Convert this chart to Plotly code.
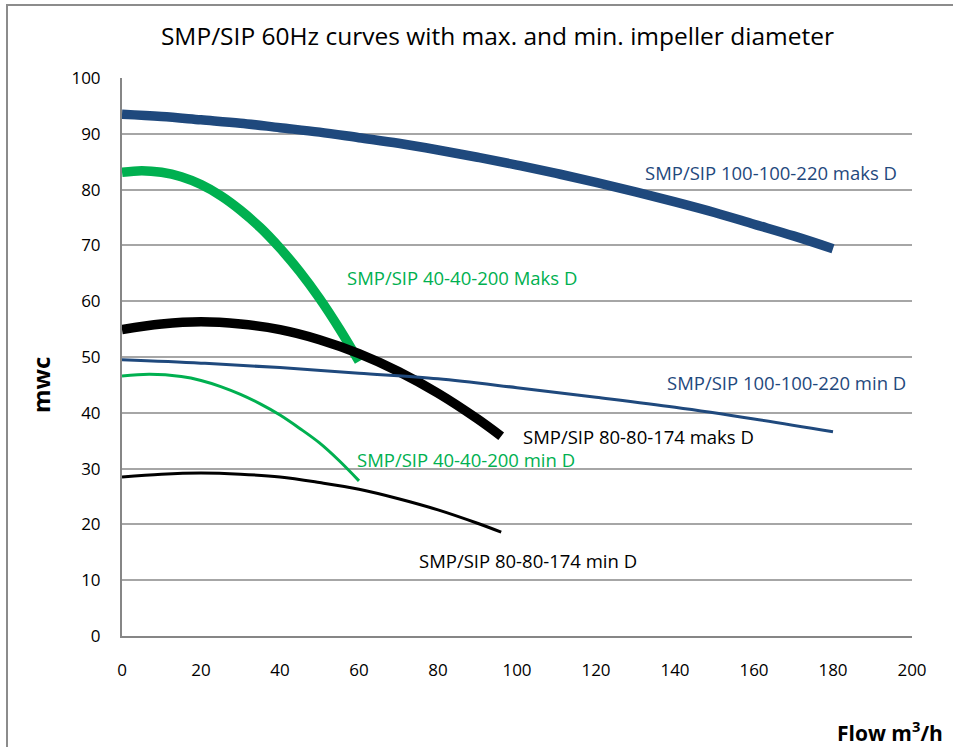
import plotly.graph_objects as go

# Flow (m3/h) and head (mwc)
q_100_max = [0, 10, 20, 30, 40, 50, 60, 70, 80, 90, 100, 110, 120, 130, 140, 150, 160, 170, 180]
h_100_max = [93.5, 93.1, 92.5, 91.9, 91.1, 90.3, 89.3, 88.3, 87.1, 85.8, 84.4, 82.9, 81.3, 79.6, 77.8, 75.9, 73.8, 71.7, 69.4]

q_40_max = [0, 5, 10, 15, 20, 25, 30, 35, 40, 45, 50, 55, 60]
h_40_max = [83.1, 83.4, 83.1, 82.3, 80.9, 78.9, 76.3, 73.2, 69.5, 65.3, 60.5, 55.1, 49.2]

q_80_max = [0, 10, 20, 30, 40, 50, 60, 70, 80, 90, 96]
h_80_max = [54.9, 55.9, 56.3, 55.9, 54.9, 53.1, 50.6, 47.4, 43.5, 38.9, 35.8]

q_100_min = [0, 20, 40, 60, 80, 100, 120, 140, 160, 180]
h_100_min = [49.5, 48.9, 48.1, 47.1, 46.1, 44.5, 42.8, 41.0, 38.9, 36.6]

q_40_min = [0, 7, 15, 20, 25, 30, 35, 40, 45, 50, 55, 60]
h_40_min = [46.6, 46.9, 46.5, 45.8, 44.7, 43.3, 41.6, 39.6, 37.2, 34.6, 31.4, 27.8]

q_80_min = [0, 10, 20, 30, 40, 50, 60, 70, 80, 90, 96]
h_80_min = [28.5, 29.0, 29.2, 29.0, 28.5, 27.5, 26.3, 24.6, 22.6, 20.2, 18.6]

series = [
    (q_100_max, h_100_max, "#1F497D", 9.5),
    (q_40_max, h_40_max, "#00B050", 9.5),
    (q_80_max, h_80_max, "#000000", 9.5),
    (q_100_min, h_100_min, "#1F497D", 3),
    (q_40_min, h_40_min, "#00B050", 3),
    (q_80_min, h_80_min, "#000000", 3),
]

labels = [
    ("SMP/SIP 100-100-220 maks D", 164.3, 83.0, "#1F497D"),
    ("SMP/SIP 40-40-200 Maks D", 86.1, 64.3, "#00B050"),
    ("SMP/SIP 100-100-220 min D", 168.1, 45.5, "#1F497D"),
    ("SMP/SIP 80-80-174 maks D", 130.8, 35.7, "#000000"),
    ("SMP/SIP 40-40-200 min D", 87.1, 31.7, "#00B050"),
    ("SMP/SIP 80-80-174 min D", 102.9, 13.6, "#000000"),
]

fig = go.Figure()
for q, h, c, w in series:
    fig.add_trace(go.Scatter(x=q, y=h, mode="lines", line=dict(color=c, width=w, shape="spline"),
                             showlegend=False, hoverinfo="skip"))

for text, x, y, c in labels:
    fig.add_annotation(x=x, y=y, text=text, showarrow=False, font=dict(color=c, size=18.5),
                       xanchor="center", yanchor="middle")

FONT = "Open Sans, Noto Sans, sans-serif"

fig.update_layout(
    width=953, height=747,
    margin=dict(l=122, r=41, t=78, b=111),
    paper_bgcolor="white", plot_bgcolor="white",
    font=dict(family=FONT, size=17, color="#000000"),
    title=dict(text="SMP/SIP 60Hz curves with max. and min. impeller diameter",
               x=0.522, xanchor="center", y=0.951, yanchor="middle",
               font=dict(size=24.5, color="#000000")),
    xaxis=dict(range=[0, 200], dtick=20, showgrid=False, zeroline=False,
               showline=True, linecolor="#868686", linewidth=2,
               ticks="", ticklabelstandoff=18, tickfont=dict(size=17, color="#000000")),
    yaxis=dict(range=[0, 100], dtick=10, showgrid=True, gridcolor="#A6A6A6", gridwidth=1.5,
               zeroline=False, showline=True, linecolor="#868686", linewidth=2,
               ticks="", ticklabelstandoff=16, tickfont=dict(size=17, color="#000000")),
)

fig.add_annotation(xref="paper", yref="paper", x=-0.1038, y=0.4498, text="<b>mwc</b>",
                   textangle=-90, showarrow=False, font=dict(size=24), xanchor="center", yanchor="middle")
fig.add_annotation(xref="paper", yref="paper", x=1.0418, y=-0.172, text="<b>Flow m<sup>3</sup>/h</b>",
                   showarrow=False, font=dict(size=21), xanchor="right", yanchor="middle")

# outer frame (top and left edges of the chart-area border) as a page overlay
frame_js = (
    "document.body.style.margin='0';document.body.style.overflow='hidden';"
    "var f=document.createElement('div');"
    "f.style.cssText='position:absolute;left:6px;top:4px;width:2000px;height:2000px;"
    "border-top:2px solid #8C8C8C;border-left:2px solid #8C8C8C;pointer-events:none;z-index:10;';"
    "document.body.appendChild(f);"
)

fig.write_html("out.html", config={"displayModeBar": False}, post_script=frame_js)
